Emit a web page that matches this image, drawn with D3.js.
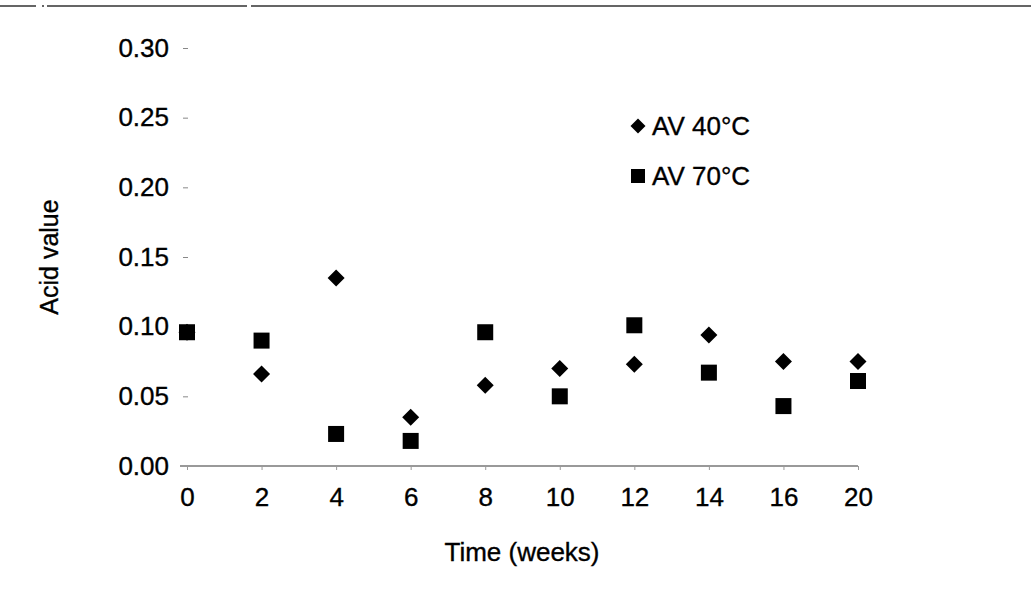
<!DOCTYPE html>
<html><head><meta charset="utf-8">
<script src="https://cdn.jsdelivr.net/npm/d3@7"></script>
<style>body{margin:0;background:#fff;}svg{display:block;font-family:"Liberation Sans",Arial,sans-serif;}
text{stroke:#000;stroke-width:0.35px;}</style>
</head><body>
<svg id="c" width="1033" height="595"></svg>
<script>
const weeks = ["0","2","4","6","8","10","12","14","16","20"];
const av40 = [0.096,0.066,0.135,0.035,0.058,0.070,0.073,0.094,0.075,0.075];
const av70 = [0.096,0.090,0.023,0.018,0.096,0.050,0.101,0.067,0.043,0.061];
const yTicks = [0,0.05,0.10,0.15,0.20,0.25,0.30];
const seriesNames = ["AV 40°C","AV 70°C"];

const svg = d3.select("#c");
const x = d3.scalePoint().domain(weeks).range([187, 858]);
const y = d3.scaleLinear().domain([0, 0.3]).range([466, 48]);
const fs = 26;

// scan border line at top
svg.append("line").attr("x1",0).attr("x2",1033).attr("y1",6).attr("y2",6)
  .attr("stroke","#333").attr("stroke-width",1.5).attr("stroke-dasharray","36,6,2,3,200,4,780");

// y axis (ticks and labels, no line)
const ya = d3.axisLeft(y).tickValues(yTicks).tickFormat(d3.format(".2f")).tickSize(5).tickPadding(14);
const gy = svg.append("g").attr("transform","translate(188,0)").call(ya);
gy.select(".domain").remove();
gy.selectAll(".tick line").attr("stroke","#888");
gy.selectAll(".tick text").attr("font-size",fs).attr("fill","#000").attr("font-family","Liberation Sans, Arial, sans-serif");

// x axis
const xa = d3.axisBottom(x).tickSize(4).tickPadding(18);
const gx = svg.append("g").attr("transform","translate(0,466)").call(xa);
gx.select(".domain").attr("d","M180,0H858").attr("stroke","#999").attr("stroke-width",2);
gx.selectAll(".tick line").attr("stroke","#999");
gx.selectAll(".tick text").attr("font-size",fs).attr("fill","#000").attr("font-family","Liberation Sans, Arial, sans-serif");

// axis titles
svg.append("text").attr("x",522).attr("y",561).attr("text-anchor","middle")
  .attr("font-size",fs).text("Time (weeks)");
svg.append("text").attr("transform","translate(58,257) rotate(-90)").attr("text-anchor","middle")
  .attr("font-size",fs-1).text("Acid value");

// squares (AV 70)
const sq = 16;
svg.append("g").selectAll("rect").data(weeks.map((w,i)=>({w,v:av70[i]}))).join("rect")
  .attr("x",d=>x(d.w)-sq/2).attr("y",d=>y(d.v)-sq/2).attr("width",sq).attr("height",sq).attr("fill","#000");

// diamonds (AV 40)
const dh = 8.5;
const diamond = (cx,cy,r)=>`M${cx},${cy-r}L${cx+r},${cy}L${cx},${cy+r}L${cx-r},${cy}Z`;
svg.append("g").selectAll("path").data(weeks.map((w,i)=>({w,v:av40[i]}))).join("path")
  .attr("d",d=>diamond(x(d.w),y(d.v),dh)).attr("fill","#000");

// legend
const lg = svg.append("g");
lg.append("path").attr("d",diamond(638,126,7.5)).attr("fill","#000");
lg.append("rect").attr("x",631).attr("y",169).attr("width",14).attr("height",14).attr("fill","#000");
lg.selectAll("text").data(seriesNames).join("text")
  .attr("x",652).attr("y",(d,i)=>126+i*50+9).attr("font-size",fs).text(d=>d);
</script>
</body></html>
